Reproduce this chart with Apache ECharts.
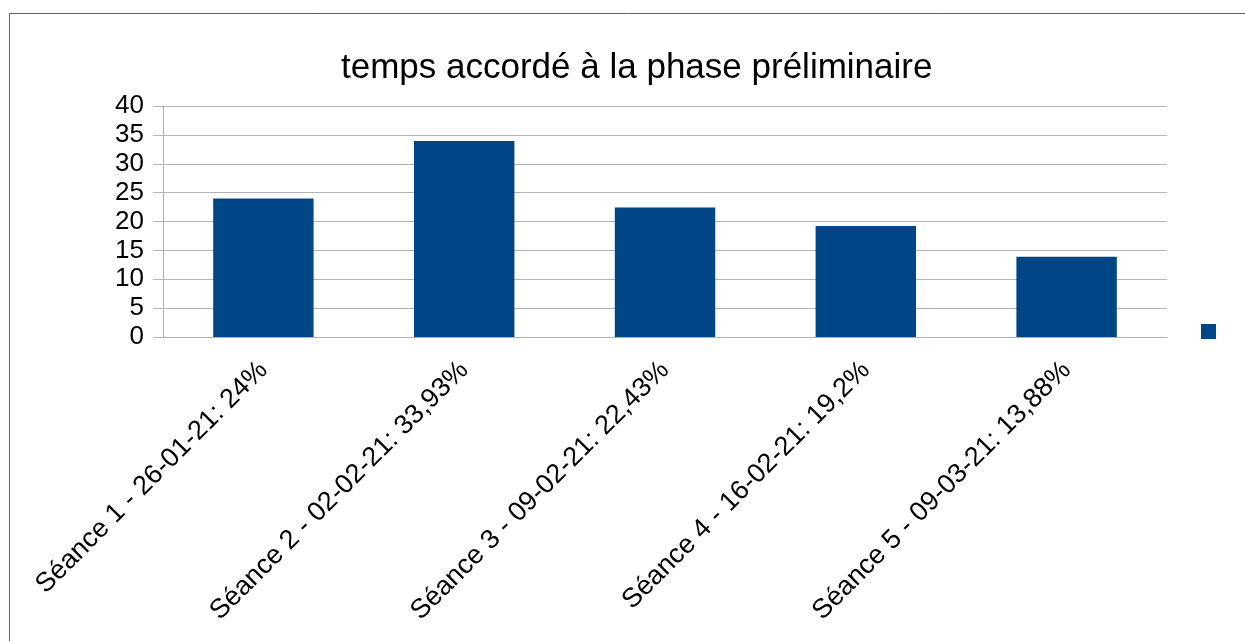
<!DOCTYPE html>
<html>
<head>
<meta charset="utf-8">
<script src="https://cdn.jsdelivr.net/npm/echarts@6/dist/echarts.min.js"></script>
<style>
  html, body { margin: 0; padding: 0; background: #fff; }
  #main { width: 1245px; height: 641px; }
</style>
</head>
<body>
<div id="main"></div>
<script>
const categories = [
    'Séance 1 - 26-01-21: 24%',
    'Séance 2 - 02-02-21: 33,93%',
    'Séance 3 - 09-02-21: 22,43%',
    'Séance 4 - 16-02-21: 19,2%',
    'Séance 5 - 09-03-21: 13,88%'
];
const values = [24, 33.93, 22.43, 19.2, 13.88];
const seriesName = ' ';

let myChart = echarts.init(document.getElementById('main'));
let option = {
    textStyle: { fontFamily: 'Liberation Sans' },
    title: {
        text: 'temps accordé à la phase préliminaire',
        left: 336,
        top: 46,
        textStyle: { fontSize: 35, fontWeight: 'normal', color: '#000', fontFamily: 'Liberation Sans' }
    },
    legend: {
        data: [seriesName],
        left: 1201,
        top: 324,
        icon: 'rect',
        itemWidth: 15,
        itemHeight: 15,
        itemGap: 0,
        padding: 0,
        textStyle: { fontSize: 1 },
        selectedMode: false
    },
    grid: { left: 163, right: 78, top: 106, bottom: 304 },
    xAxis: {
        type: 'category',
        data: categories,
        axisLine: { lineStyle: { color: '#b3b3b3' } },
        axisTick: { length: 10, lineStyle: { color: '#b3b3b3' } },
        axisLabel: { rotate: 45, fontSize: 27, color: '#000', margin: 29, interval: 0 }
    },
    yAxis: {
        type: 'value',
        min: 0,
        max: 40,
        interval: 5,
        axisLine: { show: true, lineStyle: { color: '#b3b3b3' } },
        axisTick: { show: true, length: 10, lineStyle: { color: '#b3b3b3' } },
        axisLabel: { fontSize: 26, color: '#000', margin: 19 },
        splitLine: { lineStyle: { color: '#b3b3b3' } }
    },
    series: [{
        name: seriesName,
        type: 'bar',
        data: values,
        barWidth: '50%',
        itemStyle: { color: '#004586' }
    }],
    graphic: [{
        type: 'rect',
        shape: { x: 9.5, y: 13.5, width: 1300, height: 700 },
        style: { fill: 'none', stroke: '#606060', lineWidth: 1 },
        silent: true
    }]
};
myChart.setOption(option);
</script>
</body>
</html>
